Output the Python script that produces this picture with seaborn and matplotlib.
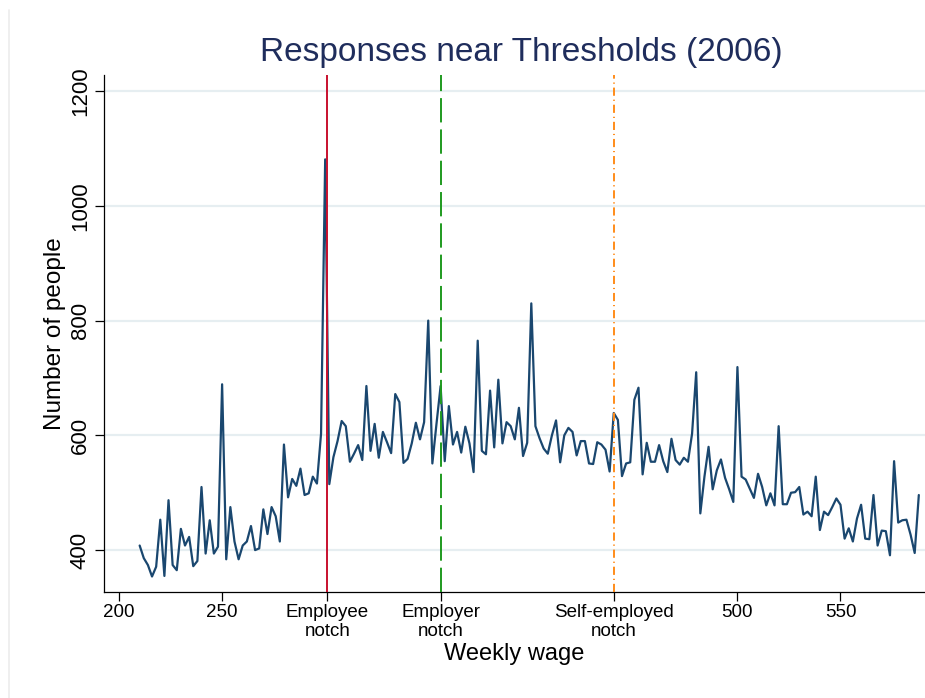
import numpy as np
import matplotlib
matplotlib.use("Agg")
import matplotlib.pyplot as plt
from matplotlib.lines import Line2D
import seaborn as sns

# ---------------- data ----------------
wage = np.arange(210, 590, 2)
people = [
    408, 386, 374, 354, 371, 453, 355, 487, 374, 365,
    437, 408, 423, 372, 381, 510, 394, 452, 394, 406,
    689, 384, 475, 415, 384, 408, 415, 442, 400, 403,
    471, 428, 475, 459, 415, 584, 492, 524, 512, 542,
    496, 499, 528, 516, 603, 1081, 515, 562, 590, 625,
    616, 554, 568, 583, 557, 686, 573, 620, 561, 606,
    588, 569, 672, 658, 552, 559, 586, 622, 593, 623,
    800, 551, 620, 686, 555, 651, 584, 606, 570, 615,
    586, 536, 765, 573, 567, 678, 579, 697, 586, 623,
    616, 593, 648, 564, 587, 830, 616, 595, 577, 568,
    600, 626, 553, 600, 613, 606, 565, 590, 590, 551,
    550, 588, 584, 575, 537, 639, 627, 529, 551, 553,
    662, 683, 532, 587, 554, 554, 583, 555, 536, 594,
    557, 549, 561, 554, 603, 710, 464, 528, 580, 506,
    539, 558, 526, 506, 484, 719, 528, 523, 507, 491,
    533, 510, 478, 499, 478, 616, 480, 480, 500, 501,
    510, 462, 467, 459, 528, 435, 467, 461, 475, 490,
    479, 420, 438, 415, 455, 479, 420, 419, 496, 408,
    434, 433, 391, 555, 448, 452, 453, 427, 395, 496,
]
notch_wages = [301, 356, 440]
x_tick_values = [200, 250, 301, 356, 440, 500, 550]
x_tick_labels = ["200", "250", "Employee\nnotch", "Employer\nnotch",
                 "Self-employed\nnotch", "500", "550"]
y_tick_values = [400, 600, 800, 1000, 1200]
y_tick_labels = ["400", "600", "800", "1000", "1200"]

# ---------------- style ----------------
sns.set_theme(style="ticks")
plt.rcParams['font.family'] = ['Liberation Sans', 'DejaVu Sans']

W, H = 925, 698
fig = plt.figure(figsize=(W / 100, H / 100), dpi=100)
fig.patch.set_facecolor("white")
ax = fig.add_axes([104 / W, 106 / H, (W - 104) / W, (592 - 75) / H])
ax.set_facecolor("white")

ax.set_xlim(192.7, 591)
ax.set_ylim(327, 1228)

ax.set_yticks(y_tick_values)
ax.yaxis.grid(True, color="#e6eef1", lw=1.6)
ax.xaxis.grid(False)
ax.set_axisbelow(True)

sns.lineplot(x=wage, y=people, ax=ax, color="#1a476f", lw=1.6,
             legend=False, zorder=3)

# notch lines
ax.axvline(notch_wages[0], color="#c8102e", lw=1.4, zorder=4)
ax.axvline(notch_wages[1], color="#1f9a1f", lw=1.4,
           linestyle=(0, (12.5, 3.6)), zorder=4)
ax.axvline(notch_wages[2], color="#ff8c1a", lw=1.4,
           linestyle=(0, (4.2, 2.0, 0.6, 2.0)), zorder=4)

for s in ["top", "right"]:
    ax.spines[s].set_visible(False)
for s in ["left", "bottom"]:
    ax.spines[s].set_color("black")
    ax.spines[s].set_linewidth(0.9)

ax.set_xticks(x_tick_values)
ax.set_xticklabels(x_tick_labels, fontsize=13.5, color="black", linespacing=1.15)
ax.set_yticklabels(y_tick_labels, fontsize=16, color="black",
                   rotation=90, va="center")
ax.tick_params(axis="both", direction="out", length=6.5, width=0.9,
               color="black", bottom=True, left=True)
ax.tick_params(axis="x", pad=2)
ax.tick_params(axis="y", pad=3)

ax.set_xlabel("Weekly wage", fontsize=17, color="black", labelpad=2)
ax.set_ylabel("Number of people", fontsize=17.5, color="black", labelpad=3)

fig.text(521 / W, 1 - 52 / H, "Responses near Thresholds (2006)",
         fontsize=24, color="#1f2d5c", ha="center", va="center")

# faint outer border on the left
fig.add_artist(Line2D([9 / W, 9 / W], [0, 1 - 10 / H], color="#ececec", lw=1.2))

fig.savefig("out.png", dpi=100)
